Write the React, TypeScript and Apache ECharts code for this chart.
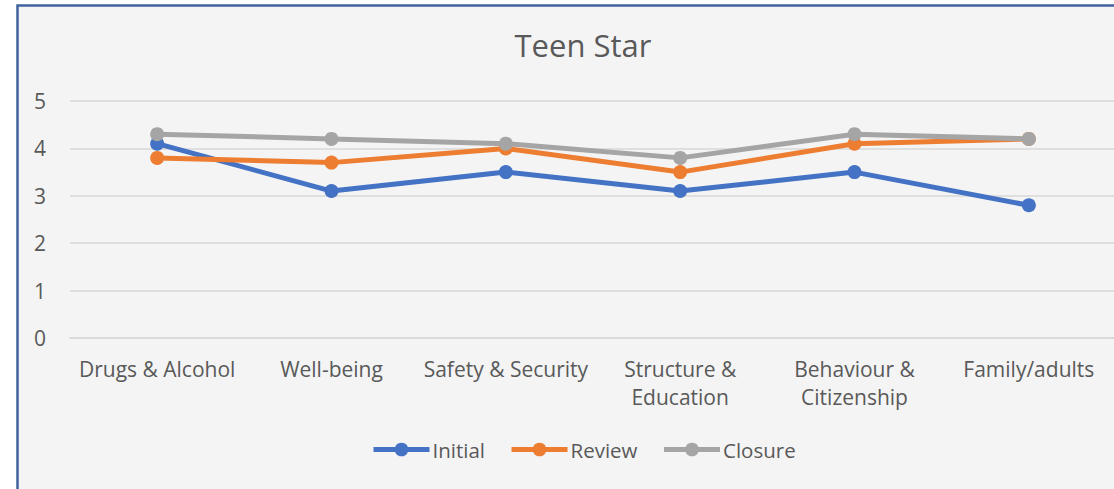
import React, { useEffect, useRef } from "react";
import * as echarts from "echarts";

const categories = [
  "Drugs & Alcohol",
  "Well-being",
  "Safety & Security",
  "Structure &\nEducation",
  "Behaviour &\nCitizenship",
  "Family/adults",
];
const initial = [4.1, 3.1, 3.5, 3.1, 3.5, 2.8];
const review = [3.8, 3.7, 4.0, 3.5, 4.1, 4.2];
const closure = [4.3, 4.2, 4.1, 3.8, 4.3, 4.2];
const seriesNames = ["Initial", "Review", "Closure"];
const seriesColors = ["#4472c4", "#ed7d31", "#a5a5a5"];

const FONT = "'Open Sans', sans-serif";
const TEXT = "#595959";

export default function App() {
  const ref = useRef<HTMLDivElement>(null);
  useEffect(() => {
    if (!ref.current) return;
    const chart = echarts.init(ref.current, undefined, { renderer: "svg" });
    const values = [initial, review, closure];
    chart.setOption({
      animation: false,
      backgroundColor: "#ffffff",
      textStyle: { fontFamily: FONT },
      graphic: [
        {
          type: "rect",
          z: -10,
          silent: true,
          shape: { x: 17.5, y: 5.5, width: 1300, height: 700 },
          style: { fill: "#f4f4f4", stroke: "#41619f", lineWidth: 2.5 },
        },
      ],
      title: {
        text: "Teen Star",
        left: 578,
        top: 24,
        textAlign: "center",
        textStyle: { fontFamily: FONT, fontSize: 31, fontWeight: "normal", color: TEXT },
      },
      legend: {
        left: 366,
        top: 434,
        itemWidth: 56,
        itemHeight: 17,
        itemGap: 24,
        lineStyle: { width: 5 },
        textStyle: { fontFamily: FONT, fontSize: 20.5, color: TEXT, padding: [0, 0, 0, -2] },
        data: seriesNames,
      },
      grid: { left: 70, top: 101, width: 1046, height: 237, containLabel: false },
      xAxis: {
        type: "category",
        data: categories,
        boundaryGap: true,
        axisLine: { show: true, lineStyle: { color: "#d9d9d9", width: 1.5 } },
        axisTick: { show: false },
        axisLabel: {
          interval: 0,
          margin: 17,
          color: TEXT,
          fontSize: 21,
          lineHeight: 28,
          fontFamily: FONT,
        },
      },
      yAxis: {
        type: "value",
        min: 0,
        max: 5,
        interval: 1,
        axisLine: { show: false },
        axisTick: { show: false },
        splitLine: { lineStyle: { color: "#d9d9d9", width: 1.5 } },
        axisLabel: { color: TEXT, fontSize: 21, margin: 24, fontFamily: FONT },
      },
      series: seriesNames.map((name, i) => ({
        name,
        type: "line",
        data: values[i],
        symbol: "circle",
        symbolSize: 14,
        color: seriesColors[i],
        lineStyle: { width: 5, color: seriesColors[i] },
        itemStyle: { color: seriesColors[i] },
        z: 2 + i,
      })),
    });
    return () => chart.dispose();
  }, []);
  return (
    <div
      ref={ref}
      style={{ position: "fixed", left: 0, top: 0, width: 1130, height: 500 }}
    />
  );
}
